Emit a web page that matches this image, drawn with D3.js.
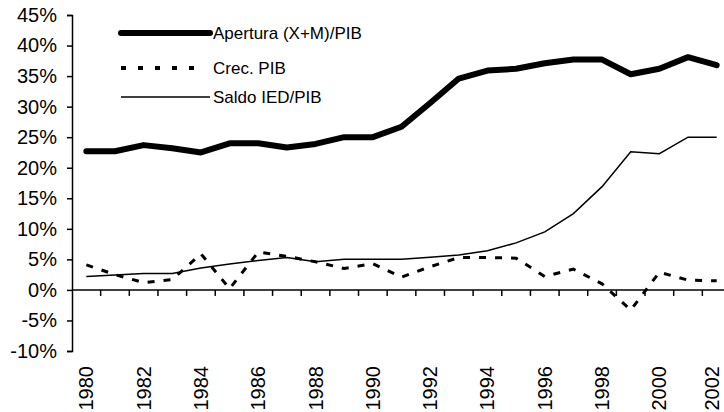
<!DOCTYPE html>
<html>
<head>
<meta charset="utf-8">
<script src="https://cdn.jsdelivr.net/npm/d3@7"></script>
<style>
  body { margin: 0; background: #fff; }
  svg { display: block; font-family: "Liberation Sans", Arial, sans-serif; }
</style>
</head>
<body>
<svg width="724" height="412"></svg>
<script>

var years = [1980, 1981, 1982, 1983, 1984, 1985, 1986, 1987, 1988, 1989, 1990, 1991,
    1992, 1993, 1994, 1995, 1996, 1997, 1998, 1999, 2000, 2001, 2002];
var apertura = [22.7, 22.7, 23.7, 23.2, 22.5, 24.0, 24.0, 23.3, 23.9, 25.0, 25.0, 26.7,
    30.6, 34.6, 35.9, 36.2, 37.1, 37.7, 37.7, 35.3, 36.2, 38.1, 36.8];
var crecPib = [4.1, 2.5, 1.2, 1.7, 5.9, 0.2, 6.2, 5.5, 4.6, 3.5, 4.3, 2.1,
    3.8, 5.3, 5.3, 5.2, 2.2, 3.4, 1.0, -3.3, 2.9, 1.6, 1.5];
var saldoIed = [2.2, 2.45, 2.7, 2.7, 3.6, 4.25, 4.8, 5.3, 4.6, 5.0, 5.0, 5.0,
    5.35, 5.7, 6.4, 7.7, 9.5, 12.5, 16.9, 22.6, 22.3, 25.0, 25.0];
var yTicks = [-10, -5, 0, 5, 10, 15, 20, 25, 30, 35, 40, 45];
var legendLabels = ["Apertura (X+M)/PIB", "Crec. PIB", "Saldo IED/PIB"];

var svg = d3.select("svg"),
    margin = { left: 72, top: 15 },
    plotW = 659,
    plotH = 336,
    width = +svg.attr("width");

var x = d3.scaleBand()
    .domain(years)
    .range([margin.left, margin.left + plotW])
    .padding(0);

var y = d3.scaleLinear()
    .domain([-10, 45])
    .range([margin.top + plotH, margin.top]);

// y axis
var yAxis = d3.axisLeft(y)
    .tickValues(yTicks)
    .tickSize(5)
    .tickPadding(10)
    .tickFormat(function (d) { return d + "%"; });

var gy = svg.append("g")
    .attr("transform", "translate(" + margin.left + ",0)")
    .call(yAxis);
gy.select(".domain").attr("stroke", "#000").attr("stroke-width", 1.5);
gy.selectAll(".tick line").attr("stroke", "#000").attr("stroke-width", 1.5);
gy.selectAll(".tick text")
    .attr("font-size", "20px")
    .attr("fill", "#000")
    .attr("font-family", "Liberation Sans, Arial, sans-serif");

// x axis along 0%, ticks between categories
var gx = svg.append("g").attr("class", "x-axis");
gx.append("line")
    .attr("x1", margin.left)
    .attr("x2", margin.left + plotW)
    .attr("y1", y(0))
    .attr("y2", y(0))
    .attr("stroke", "#000")
    .attr("stroke-width", 1.5);

gx.selectAll(".xt")
    .data(years.slice(1))
    .enter().append("line")
    .attr("x1", function (d) { return x(d); })
    .attr("x2", function (d) { return x(d); })
    .attr("y1", y(0))
    .attr("y2", y(0) + 6)
    .attr("stroke", "#000")
    .attr("stroke-width", 1.5);

// year labels, every other year; keep the last one inside the frame
gx.selectAll(".xl")
    .data(years.filter(function (d) { return d % 2 === 0; }))
    .enter().append("text")
    .attr("transform", function (d) {
        var cx = Math.min(x(d) + x.bandwidth() / 2, width - 12);
        return "translate(" + cx + "," + (y(-10) + 15) + ") rotate(-90)";
    })
    .attr("dy", "0.35em")
    .attr("text-anchor", "end")
    .attr("font-size", "20px")
    .text(function (d) { return d; });

// lines
var line = d3.line()
    .x(function (d, i) { return x(years[i]) + x.bandwidth() / 2; })
    .y(function (d) { return y(d); });

svg.append("path")
    .datum(saldoIed)
    .attr("d", line)
    .attr("fill", "none")
    .attr("stroke", "#000")
    .attr("stroke-width", 1.5);

svg.append("path")
    .datum(crecPib)
    .attr("d", line)
    .attr("fill", "none")
    .attr("stroke", "#000")
    .attr("stroke-width", 3)
    .attr("stroke-dasharray", "7,9");

svg.append("path")
    .datum(apertura)
    .attr("d", line)
    .attr("fill", "none")
    .attr("stroke", "#000")
    .attr("stroke-width", 6)
    .attr("stroke-linejoin", "round")
    .attr("stroke-linecap", "round");

// legend
var legend = svg.append("g").attr("class", "legend");
var legendStyles = [
    { w: 6, dash: null, y: 33, x2: 210 },
    { w: 4, dash: "5,12", y: 68, x2: 200 },
    { w: 1.5, dash: null, y: 97, x2: 210 }
];
legendLabels.forEach(function (lab, i) {
    var s = legendStyles[i];
    legend.append("line")
        .attr("x1", 121)
        .attr("x2", s.x2)
        .attr("y1", s.y)
        .attr("y2", s.y)
        .attr("stroke", "#000")
        .attr("stroke-width", s.w)
        .attr("stroke-linecap", i === 0 ? "round" : "butt")
        .attr("stroke-dasharray", s.dash);
    legend.append("text")
        .attr("x", 213)
        .attr("y", s.y)
        .attr("dy", "0.35em")
        .attr("font-size", "17px")
        .text(lab);
});
</script>
</body>
</html>
